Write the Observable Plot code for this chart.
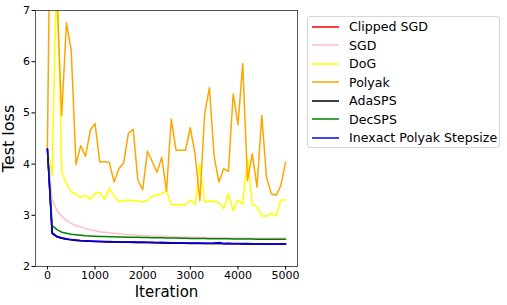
<!DOCTYPE html>
<html>
<head>
<meta charset="utf-8">
<script src="https://cdn.jsdelivr.net/npm/d3@7"></script>
<script src="https://cdn.jsdelivr.net/npm/@observablehq/plot@0.6"></script>
<style>
  html, body { margin: 0; padding: 0; background: #fff; }
  #wrap { position: relative; width: 507px; height: 305px; font-family: "DejaVu Sans", sans-serif; }
  #legend { position: absolute; left: 307px; top: 16px; width: 193px; height: 132px;
    border: 1px solid #d6d6d6; border-radius: 3px; box-sizing: border-box; background: #fff; }
  .row { position: absolute; left: 0; height: 18px; display: flex; align-items: center; }
  .row svg { margin-left: 4px; }
  .row span { margin-left: 10px; font-size: 12.6px; color: #000; white-space: nowrap; }
</style>
</head>
<body>
<div id="wrap"></div>
<script>
const iterations = [0,100,200,300,400,500,600,700,800,900,1000,1100,1200,1300,1400,1500,1600,1700,1800,1900,2000,2100,2200,2300,2400,2500,2600,2700,2800,2900,3000,3100,3200,3300,3400,3500,3600,3700,3800,3900,4000,4100,4200,4300,4400,4500,4600,4700,4800,4900,5000];

const clippedSGD = [4.30,2.65,2.58,2.55,2.535,2.52,2.515,2.505,2.50,2.495,2.49,2.49,2.485,2.485,2.48,2.48,2.48,2.475,2.475,2.47,2.47,2.47,2.47,2.465,2.465,2.46,2.46,2.46,2.46,2.455,2.455,2.455,2.455,2.45,2.45,2.45,2.455,2.45,2.45,2.445,2.445,2.445,2.44,2.44,2.44,2.44,2.44,2.435,2.435,2.435,2.435];
const sgd = [4.30,3.30,3.10,2.98,2.90,2.84,2.80,2.77,2.74,2.72,2.70,2.68,2.67,2.66,2.65,2.64,2.63,2.62,2.62,2.61,2.60,2.60,2.595,2.59,2.59,2.585,2.58,2.58,2.575,2.575,2.57,2.57,2.565,2.565,2.56,2.56,2.56,2.56,2.555,2.555,2.555,2.555,2.55,2.55,2.55,2.55,2.55,2.55,2.55,2.55,2.55];
const dog = [4.30,3.78,8.2,3.84,3.62,3.45,3.42,3.35,3.39,3.31,3.43,3.45,3.31,3.53,3.37,3.27,3.29,3.30,3.28,3.28,3.26,3.29,3.37,3.39,3.42,3.48,3.21,3.20,3.21,3.20,3.30,3.21,4.00,3.26,3.28,3.27,3.25,3.13,3.42,3.09,3.30,3.22,4.13,3.22,3.16,2.99,2.98,3.04,2.99,3.30,3.30];
const polyak = [4.33,12.4,7.25,4.95,6.76,6.22,3.99,4.36,4.15,4.66,4.79,4.04,4.05,4.03,3.65,3.91,4.02,4.60,4.68,3.68,3.50,4.25,4.05,3.84,4.13,3.47,4.88,4.27,4.27,4.27,4.71,4.19,3.29,4.97,5.49,4.15,3.65,3.91,3.86,5.37,4.77,5.96,3.68,4.20,3.55,4.95,3.74,3.42,3.39,3.58,4.04];
const adaSPS = [4.30,2.64,2.58,2.55,2.53,2.52,2.51,2.505,2.50,2.495,2.49,2.49,2.485,2.48,2.48,2.48,2.475,2.475,2.47,2.47,2.47,2.47,2.465,2.465,2.46,2.46,2.455,2.455,2.455,2.455,2.45,2.45,2.45,2.45,2.45,2.45,2.455,2.445,2.445,2.445,2.445,2.44,2.445,2.44,2.44,2.445,2.44,2.44,2.44,2.44,2.445];
const decSPS = [4.30,2.80,2.72,2.67,2.65,2.63,2.62,2.61,2.60,2.595,2.59,2.585,2.585,2.58,2.58,2.575,2.575,2.57,2.57,2.57,2.565,2.565,2.56,2.56,2.56,2.555,2.555,2.555,2.55,2.55,2.545,2.545,2.545,2.545,2.54,2.54,2.54,2.54,2.54,2.535,2.535,2.535,2.535,2.535,2.53,2.53,2.53,2.53,2.53,2.53,2.53];
const inexactPolyak = [4.30,2.66,2.59,2.56,2.54,2.525,2.52,2.51,2.505,2.50,2.495,2.49,2.49,2.49,2.485,2.485,2.48,2.48,2.485,2.48,2.48,2.475,2.475,2.47,2.475,2.47,2.465,2.465,2.465,2.46,2.46,2.46,2.46,2.455,2.455,2.46,2.47,2.45,2.455,2.45,2.45,2.45,2.45,2.445,2.445,2.44,2.435,2.435,2.44,2.44,2.44];

const seriesNames = ["Clipped SGD","SGD","DoG","Polyak","AdaSPS","DecSPS","Inexact Polyak Stepsize"];
const seriesValues = [clippedSGD, sgd, dog, polyak, adaSPS, decSPS, inexactPolyak];
const seriesColors = ["red","pink","yellow","orange","black","green","blue"];
const xTicks = [0,1000,2000,3000,4000,5000];
const yTicks = [2,3,4,5,6,7];

const rows = [];
seriesNames.forEach((name, k) => {
  iterations.forEach((it, i) => rows.push({series: name, iter: it, loss: seriesValues[k][i]}));
});

const lineMarks = seriesNames.map((name, k) =>
  Plot.line(rows.filter(r => r.series === name), {
    x: "iter", y: "loss", stroke: seriesColors[k], strokeWidth: 1.5, clip: true
  })
);

const chart = Plot.plot({
  width: 507,
  height: 305,
  marginLeft: 35,
  marginRight: 210,
  marginTop: 10,
  marginBottom: 39,
  style: {fontFamily: "DejaVu Sans, sans-serif", fontSize: "11px", color: "#000", background: "#fff"},
  x: {domain: [-250, 5250], ticks: xTicks},
  y: {domain: [2, 7], ticks: yTicks},
  marks: [
    ...lineMarks,
    Plot.frame({stroke: "#555", strokeWidth: 1}),
    Plot.axisX({ticks: xTicks, tickSize: 3.5, tickPadding: 1.5, tickFormat: d => String(d),
      label: "Iteration", labelAnchor: "center", labelArrow: "none", labelOffset: 30,
      fontSize: 11}),
    Plot.axisY({ticks: yTicks, tickSize: 3.5, tickPadding: 2, tickFormat: d => String(d),
      label: "Test loss", labelAnchor: "center", labelArrow: "none", labelOffset: 33,
      fontSize: 11})
  ]
});

chart.querySelectorAll("g[aria-label='x-axis label'] text").forEach(t => {
  t.setAttribute("font-size", "15px");
});
chart.querySelectorAll("g[aria-label='y-axis label'] text").forEach(t => {
  t.setAttribute("font-size", "16px");
});

const wrap = document.getElementById("wrap");
wrap.appendChild(chart);

const legend = document.createElement("div");
legend.id = "legend";
seriesNames.forEach((name, k) => {
  const row = document.createElement("div");
  row.className = "row";
  row.style.top = (0.5 + k * 18.5) + "px";
  row.innerHTML = `<svg width="27" height="4"><line x1="0" y1="2" x2="27" y2="2" stroke="${seriesColors[k]}" stroke-width="1.5"/></svg><span>${name}</span>`;
  legend.appendChild(row);
});
wrap.appendChild(legend);
</script>
</body>
</html>
